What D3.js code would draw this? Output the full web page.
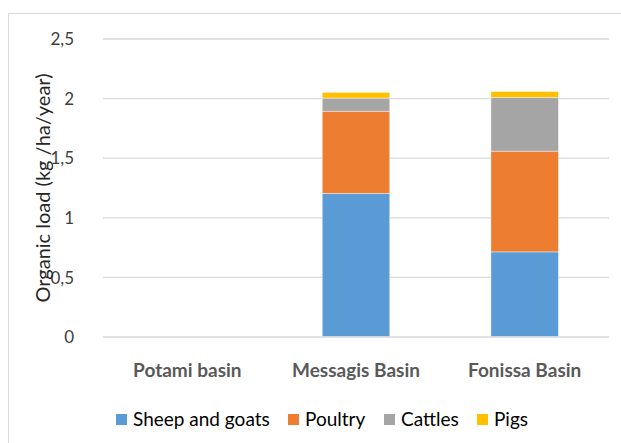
<!DOCTYPE html>
<html><head><meta charset="utf-8">
<script src="https://cdn.jsdelivr.net/npm/d3@7"></script>
<style>body{margin:0;background:#fff}svg{display:block}</style>
</head><body>
<svg id="c" width="621" height="443"></svg>
<script>
const categories = ["Potami basin", "Messagis Basin", "Fonissa Basin"];
const seriesNames = ["Sheep and goats", "Poultry", "Cattles", "Pigs"];
const sheepGoats = [0, 1.2, 0.71];
const poultry = [0, 0.69, 0.845];
const cattles = [0, 0.11, 0.45];
const pigs = [0, 0.048, 0.05];
const yTicks = [0, 0.5, 1, 1.5, 2, 2.5];
const yTickLabels = ["0", "0,5", "1", "1,5", "2", "2,5"];
const colors = ["#5b9bd5", "#ed7d31", "#a5a5a5", "#ffc000"];

const rows = categories.map((c, i) => ({cat: c, "Sheep and goats": sheepGoats[i], "Poultry": poultry[i], "Cattles": cattles[i], "Pigs": pigs[i]}));
const svg = d3.select("#c");
const font = "Lato, 'Open Sans', sans-serif";

// outer border
svg.append("path").attr("d", "M8.5,443 L8.5,13.5 L621,13.5").attr("fill", "none").attr("stroke", "#d9d9d9").attr("stroke-width", 1);

const x = d3.scaleBand().domain(categories).range([103, 609]).paddingInner(0.6).paddingOuter(0.3);
const y = d3.scaleLinear().domain([0, 2.5]).range([336.5, 38.5]);

// gridlines
const yAxis = d3.axisLeft(y).tickValues(yTicks).tickSize(-(609 - 103)).tickFormat((d, i) => yTickLabels[i]).tickPadding(29);
const ga = svg.append("g").attr("transform", "translate(103,0)").call(yAxis);
ga.select(".domain").remove();
ga.selectAll(".tick line").attr("stroke", "#d9d9d9").attr("stroke-width", 1.3);
ga.selectAll(".tick text").attr("fill", "#404040").style("font-family", font).style("font-size", "17px").attr("dy", "0.36em");

const stack = d3.stack().keys(seriesNames)(rows);
svg.append("g").selectAll("g").data(stack).join("g").attr("fill", (d, i) => colors[i])
  .selectAll("rect").data(d => d).join("rect")
  .attr("x", d => x(d.data.cat)).attr("width", x.bandwidth())
  .attr("y", d => y(d[1])).attr("height", d => Math.max(0, y(d[0]) - y(d[1])))
  .attr("stroke", "#fff").attr("stroke-opacity", 0.5).attr("stroke-width", 0.8);

// category labels
const xAxis = d3.axisBottom(x).tickSize(0).tickPadding(0);
const gx = svg.append("g").attr("transform", "translate(0,370)").call(xAxis);
gx.select(".domain").remove();
gx.selectAll(".tick text").attr("fill", "#595959").attr("dy", "0.36em").style("font-family", font).style("font-size", "19px").style("font-weight", "bold");

// axis title
svg.append("text").attr("transform", "translate(43,188) rotate(-90)").attr("text-anchor", "middle").attr("dy", "0.36em")
  .style("font-family", font).style("font-size", "20px").attr("fill", "#262626").text("Organic load (kg /ha/year)");

// legend
const legX = [116, 288, 384, 477];
const lg = svg.append("g").selectAll("g").data(seriesNames).join("g").attr("transform", (d, i) => `translate(${legX[i]},414)`);
lg.append("rect").attr("width", 11).attr("height", 11).attr("fill", (d, i) => colors[i]);
lg.append("text").attr("x", 17).attr("y", 5.5).attr("dy", "0.36em").style("font-family", font).style("font-size", "19px").attr("fill", "#000").text(d => d);
</script>
</body></html>
